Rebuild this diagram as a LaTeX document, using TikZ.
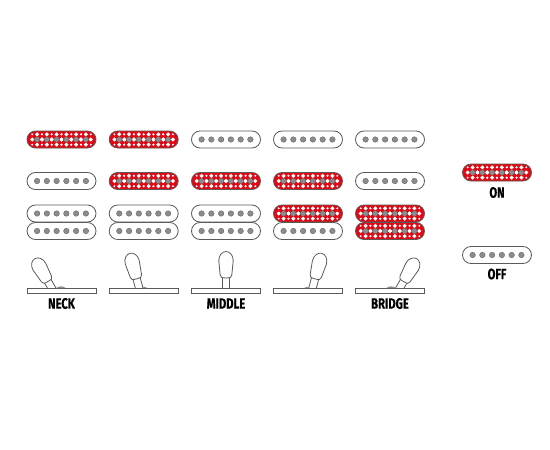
\documentclass[tikz,border=0pt]{standalone}
\usepackage{fontspec}
\setmainfont{Fira Sans}[BoldFeatures={FakeBold=0.5}]
\usetikzlibrary{positioning,calc,shapes.misc}
\definecolor{pickred}{RGB}{227,6,19}
\definecolor{polegray}{RGB}{140,140,140}
\definecolor{edgegray}{RGB}{90,90,90}
\tikzset{
  pickoff/.style={draw=edgegray,fill=white,line width=0.8pt,rounded rectangle,minimum width=69pt,minimum height=17pt,inner sep=0pt},
  pickon/.style={pickoff,fill=pickred},
  polenode/.style={circle,fill=polegray,draw=edgegray,line width=0.3pt,minimum size=5.6pt,inner sep=0pt},
  dotnode/.style={fill=white,draw=none,minimum size=3pt,inner sep=0pt,rectangle,rotate=45},
  tinydot/.style={dotnode,minimum size=1.5pt},
  platenode/.style={draw=edgegray,fill=white,line width=0.8pt,minimum width=69pt,minimum height=4.6pt,inner sep=0pt},
  lbl/.style={font=\bfseries\fontsize{15}{15}\selectfont,xscale=0.75,transform shape,inner sep=0pt},
  batline/.style={draw=edgegray,fill=white,line width=0.8pt,line join=round},
  hump/.style={fill=edgegray!70}
}
% pickup: name, centre, state
\newcommand{\pickup}[4]{
  \node[#4] (#1) at (#2,#3) {};
  \ifnum\pdfstrcmp{#4}{pickon}=0
    \foreach \i in {0,...,5} {
      \foreach \dy in {-5.2,5.2} {
        \node[dotnode] at ($(#1)+(-24.4+9.76*\i,\dy)$) {};
        \node[tinydot] at ($(#1)+(-24.4+9.76*\i-4.88,\dy)$) {};
        \node[tinydot] at ($(#1)+(-24.4+9.76*\i+4.88,\dy)$) {};
      }
      \node[dotnode] at ($(#1)+(-24.4+9.76*\i-4.88,0)$) {};
      \node[dotnode] at ($(#1)+(-24.4+9.76*\i+4.88,0)$) {};
    }
  \fi
  \foreach \i in {0,...,5} {
    \node[polenode] (#1p\i) at ($(#1)+(-24.4+9.76*\i,0)$) {};
  }
}
% toggle: column centre, angle
\newcommand{\toggle}[2]{
  \begin{scope}[shift={(#1,305)},rotate=#2]
    \draw[batline] (-3.7,-16) -- (-3.7,-29) -- (3.7,-29) -- (3.7,-16);
    \draw[batline] (-4.4,-27.5) .. controls (-5.4,-27.8) and (-5.8,-28.6) .. (-5.8,-30)
      -- (-7.2,-44) .. controls (-7.4,-50) and (-3.5,-53.5) .. (0,-53.5)
      .. controls (3.5,-53.5) and (7.4,-50) .. (7.2,-44) -- (5.8,-30)
      .. controls (5.8,-28.6) and (5.4,-27.8) .. (4.4,-27.5)
      .. controls (2,-26.9) and (-2,-26.9) .. (-4.4,-27.5) -- cycle;
  \end{scope}
}
\begin{document}
\begin{tikzpicture}[x=1pt,y=-1pt]
  \useasboundingbox (0,0) rectangle (550,450);
  \fill[white] (0,0) rectangle (550,450);

  % pickups, row by row
  \foreach \c/\x/\sa/\sb/\sc/\sd in {1/61.5/pickon/pickoff/pickoff/pickoff,2/143.7/pickon/pickon/pickoff/pickoff,3/226/pickoff/pickon/pickoff/pickoff,4/308/pickoff/pickon/pickon/pickoff,5/390/pickoff/pickoff/pickon/pickon} {
    \pickup{a\c}{\x}{139.5}{\sa}
    \pickup{b\c}{\x}{181}{\sb}
    \pickup{c\c}{\x}{213.5}{\sc}
    \pickup{d\c}{\x}{231}{\sd}
  }

  % switches
  \foreach \c/\x/\ang in {1/61.5/30,2/143.7/15,3/226/0,4/308/-15,5/390/-30} {
    \toggle{\x}{\ang}
    \node[platenode] (plate\c) at (\x,290.6) {};
  }
  \fill[hump] (56,288.2) .. controls (59,285.8) and (63,285.8) .. (66,288.2) -- cycle;
  \fill[hump] (141.5,288.2) .. controls (143,286.4) and (146,286.4) .. (148,288.2) -- cycle;
  \fill[hump] (303.5,288.2) .. controls (305.5,286.4) and (308.5,286.4) .. (311,288.2) -- cycle;
  \fill[hump] (386,288.2) .. controls (389,285.8) and (393,285.8) .. (396,288.2) -- cycle;

  \node[lbl] (neck) at (61.5,303.5) {NECK};
  \node[lbl] (middle) at (226,303.5) {MIDDLE};
  \node[lbl] (bridge) at (390,303.5) {BRIDGE};

  % legend
  \pickup{on}{497}{172.5}{pickon}
  \pickup{off}{497}{255}{pickoff}
  \node[lbl] (onlbl) at (497,192.5) {ON};
  \node[lbl] (offlbl) at (497,274) {OFF};
\end{tikzpicture}
\end{document}
